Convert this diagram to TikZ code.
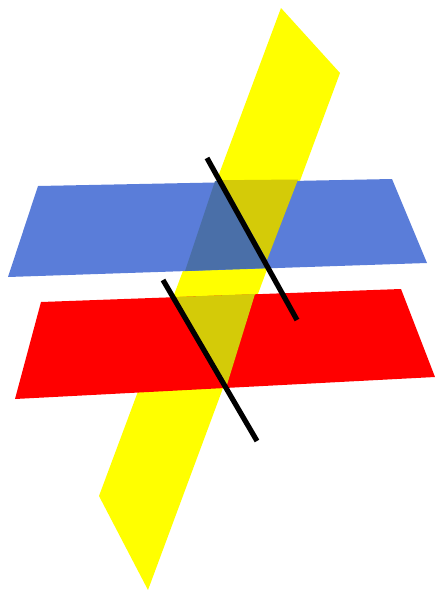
\documentclass[tikz,border=0pt]{standalone}
\definecolor{planeyellow}{RGB}{255,255,0}
\definecolor{planered}{RGB}{255,0,0}
\definecolor{planeblue}{HTML}{5A7DD9}
\definecolor{mixblue}{HTML}{4A6FA8}
\definecolor{mixyellow}{HTML}{D4CB08}
\tikzset{blackline/.style={draw=black,line width=5.2pt}}
\begin{document}
\begin{tikzpicture}[x=1pt,y=-1pt]
\useasboundingbox (0,0) rectangle (435,590);
\fill[planeyellow] (281,8) -- (340,73) -- (148,590) -- (99,496) -- cycle;
\fill[planeblue] (38,186) -- (392,179) -- (427,263) -- (8,277) -- cycle;
\fill[planered] (41,302) -- (401,289) -- (435,377) -- (15,399) -- cycle;
\fill[mixblue] (215,181) -- (240,181) -- (268,262) -- (266,268) -- (185,271) -- cycle;
\fill[mixyellow] (222,180.2) -- (298,179.5) -- (267,260) -- cycle;
\fill[mixyellow] (176,297) -- (255,294) -- (226,388) -- cycle;
\coordinate (a1) at (207,158);
\coordinate (a2) at (297,320);
\coordinate (b1) at (163,280);
\coordinate (b2) at (257,441);
\draw[blackline] (a1) -- (a2);
\draw[blackline] (b1) -- (b2);
\end{tikzpicture}
\end{document}
